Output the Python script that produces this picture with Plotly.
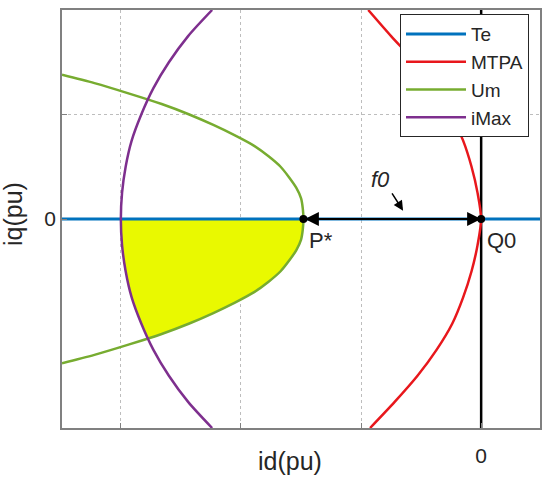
import plotly.graph_objects as go

te_id = [-3.6, 0.6]
te_iq = [0.0, 0.0]

mtpa_id = [-0.94, -0.75, -0.55, -0.38, -0.25, -0.15, -0.08, -0.03, 0.0,
           -0.03, -0.08, -0.15, -0.24, -0.37, -0.53, -0.72, -0.925]
mtpa_iq = [2.0, 1.75, 1.5, 1.25, 1.0, 0.75, 0.5, 0.25, 0.0,
           -0.25, -0.5, -0.75, -1.0, -1.25, -1.5, -1.75, -2.0]

um_id = [-3.49, -3.22, -2.93, -2.66, -2.43, -2.23, -2.05, -1.89, -1.77, -1.67, -1.60, -1.54, -1.50, -1.485, -1.48,
         -1.485, -1.50, -1.54, -1.60, -1.67, -1.77, -1.89, -2.05, -2.23, -2.43, -2.66, -2.93, -3.22, -3.49]
um_iq = [1.38, 1.3, 1.2, 1.1, 1.0, 0.9, 0.8, 0.7, 0.6, 0.5, 0.4, 0.3, 0.2, 0.1, 0.0,
         -0.1, -0.2, -0.3, -0.4, -0.5, -0.6, -0.7, -0.8, -0.9, -1.0, -1.1, -1.2, -1.3, -1.38]

imax_id = [-2.24, -2.44, -2.60, -2.73, -2.83, -2.91, -2.96, -2.99, -3.0,
           -2.99, -2.96, -2.91, -2.83, -2.73, -2.60, -2.44, -2.24]
imax_iq = [2.0, 1.75, 1.5, 1.25, 1.0, 0.75, 0.5, 0.25, 0.0,
           -0.25, -0.5, -0.75, -1.0, -1.25, -1.5, -1.75, -2.0]

# feasible region: below Te, inside Um and iMax
region_id = [-1.48, -1.485, -1.50, -1.54, -1.60, -1.67, -1.77, -1.89, -2.05, -2.23, -2.43, -2.66, -2.77,
             -2.83, -2.91, -2.96, -2.99, -3.0]
region_iq = [0.0, -0.1, -0.2, -0.3, -0.4, -0.5, -0.6, -0.7, -0.8, -0.9, -1.0, -1.1, -1.14,
             -1.0, -0.75, -0.5, -0.25, 0.0]

# operating points P* and Q0
pts_id = [-1.48, 0.0]
pts_iq = [0.0, 0.0]
pts_names = ['P*', 'Q0']

axis_line = [-2.0, 2.0]

FONT = 'Liberation Sans, Arial, sans-serif'
TXT = '#262626'

fig = go.Figure()

fig.add_trace(go.Scatter(x=region_id, y=region_iq, fill='toself', fillcolor='#E9F900',
                         mode='lines', line=dict(width=0), showlegend=False, hoverinfo='skip'))
fig.add_trace(go.Scatter(x=te_id, y=te_iq, mode='lines', name='Te',
                         line=dict(color='#0072BD', width=3)))
fig.add_trace(go.Scatter(x=[0, 0], y=axis_line, mode='lines', showlegend=False,
                         line=dict(color='black', width=2.5), hoverinfo='skip'))
fig.add_trace(go.Scatter(x=mtpa_id, y=mtpa_iq, mode='lines', name='MTPA',
                         line=dict(color='#E8171C', width=2.5, shape='spline', smoothing=0.8)))
fig.add_trace(go.Scatter(x=um_id, y=um_iq, mode='lines', name='Um',
                         line=dict(color='#77AC30', width=2.5, shape='spline', smoothing=0.8)))
fig.add_trace(go.Scatter(x=imax_id, y=imax_iq, mode='lines', name='iMax',
                         line=dict(color='#7E2F8E', width=2.5, shape='spline', smoothing=0.8)))

# double arrow P* <-> Q0
fig.add_annotation(x=pts_id[1], y=pts_iq[1], ax=pts_id[0], ay=pts_iq[0],
                   xref='x', yref='y', axref='x', ayref='y', text='',
                   showarrow=True, arrowside='end+start', arrowhead=2,
                   arrowsize=1.4, arrowwidth=2, arrowcolor='black')
fig.add_trace(go.Scatter(x=pts_id, y=pts_iq, mode='markers', showlegend=False,
                         marker=dict(color='black', size=8)))

for name, x, y in zip(pts_names, pts_id, pts_iq):
    fig.add_annotation(x=x, y=y, text=name, showarrow=False, xref='x', yref='y',
                       xanchor='left', yanchor='top', xshift=4, yshift=-7,
                       font=dict(size=22, color=TXT, family=FONT))

# f0 label with small pointer
fig.add_annotation(x=-0.84, y=0.38, text='<i>f0</i>', showarrow=False,
                   font=dict(size=22, color=TXT, family=FONT))
fig.add_annotation(x=-0.65, y=0.08, ax=-0.75, ay=0.26, xref='x', yref='y',
                   axref='x', ayref='y', text='', showarrow=True, arrowhead=2,
                   arrowsize=1.3, arrowwidth=1.5, arrowcolor='black')

# axis titles
fig.add_annotation(x=0.477, y=-0.079, xref='paper', yref='paper', text='id(pu)',
                   xanchor='center', yanchor='middle',
                   showarrow=False, font=dict(size=25, color=TXT, family=FONT))
fig.add_annotation(x=-0.1025, y=0.512, xref='paper', yref='paper', text='iq(pu)',
                   xanchor='center', yanchor='middle',
                   textangle=-90, showarrow=False, font=dict(size=25, color=TXT, family=FONT))

grid = dict(showgrid=True, gridcolor='#BDBDBD', griddash='dot', gridwidth=1,
            zeroline=False, showline=True, linecolor='#808080', linewidth=1.5,
            mirror=True, ticks='inside', ticklen=5, tickcolor='#808080',
            tickfont=dict(size=21, color=TXT, family=FONT))

fig.update_layout(
    width=550, height=479,
    margin=dict(l=62, r=10, t=8, b=51),
    paper_bgcolor='white', plot_bgcolor='white',
    xaxis=dict(range=[-3.49, 0.49], tickvals=[-3, -2, -1, 0],
               ticktext=['', '', '', '0'], ticklabelstandoff=8, **grid),
    yaxis=dict(range=[-2.0, 2.0], tickvals=[0, 1], ticktext=['0', ''], **grid),
    legend=dict(x=0.977, y=0.99, xanchor='right', yanchor='top',
                bgcolor='white', bordercolor='#262626', borderwidth=1,
                font=dict(size=19, color=TXT, family=FONT), itemwidth=60,
                tracegroupgap=0),
    showlegend=True,
)

fig.write_html("out.html", config={'displayModeBar': False},
               post_script="document.body.style.margin='0';")
